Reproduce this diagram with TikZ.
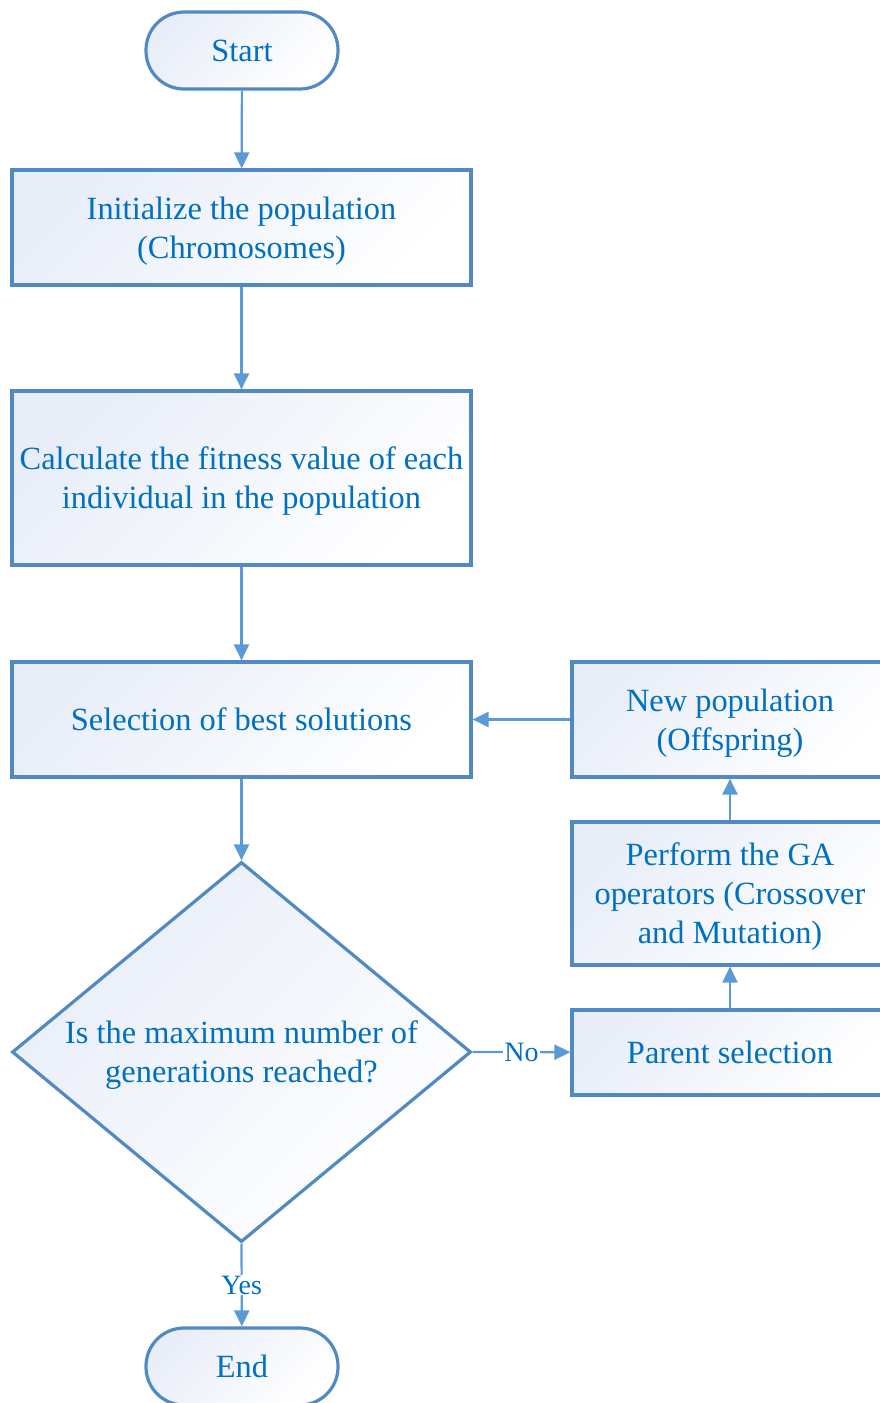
\documentclass[tikz,border=0pt]{standalone}
\usepackage{fontspec}
\setmainfont{Liberation Serif}
\usetikzlibrary{shapes.geometric,arrows.meta}
\definecolor{txtblue}{HTML}{0070C0}
\definecolor{edgeblue}{HTML}{5189C2}
\definecolor{arrowblue}{HTML}{5B9BD5}
\definecolor{shadeblue}{HTML}{E8EDF8}
\tikzset{
  boxfill/.style={top color=shadeblue, bottom color=white, shading angle=45},
  procbox/.style={draw=edgeblue, line width=3.2pt, boxfill, text=txtblue,
    align=center, inner sep=0pt, text depth=0pt, font=\fontsize{32.4}{39}\selectfont},
  termbox/.style={procbox, rounded corners=38pt, minimum width=192pt, minimum height=77pt},
  decbox/.style={procbox, diamond, aspect=1.208, minimum width=459pt, minimum height=380pt},
  flow/.style={draw=arrowblue, line width=2.2pt, -{Triangle[length=16pt,width=15pt]}},
  lbl/.style={fill=white, text=txtblue, inner sep=1pt, font=\fontsize{28}{32}\selectfont}
}
\begin{document}
\begin{tikzpicture}[x=1pt,y=-1pt]
\useasboundingbox (0,0) rectangle (880,1403);
\clip (0,0) rectangle (880,1403);
\fill[white] (0,0) rectangle (880,1403);

% main column
\node[termbox] (start) at (242,50.5) {Start};
\node[procbox, minimum width=459pt, minimum height=115pt] (init) at (241.5,227.5)
  {Initialize the population\\(Chromosomes)};
\node[procbox, minimum width=459pt, minimum height=174pt] (fit) at (241.5,478)
  {Calculate the fitness value of each\\individual in the population};
\node[procbox, minimum width=459pt, minimum height=115pt] (sel) at (241.5,719.5)
  {Selection of best solutions};
\node[decbox] (dec) at (241.5,1052) {Is the maximum number of\\generations reached?};
\node[termbox] (end) at (242,1366.5) {End};

% loop column
\node[procbox, minimum width=316pt, minimum height=115pt] (newpop) at (730,719.5)
  {New population\\(Offspring)};
\node[procbox, minimum width=316pt, minimum height=143pt] (ops) at (730,893.5)
  {Perform the GA\\operators (Crossover\\and Mutation)};
\node[procbox, minimum width=316pt, minimum height=85pt] (par) at (730,1052.5)
  {Parent selection};

% connectors
\draw[flow] (start) -- (init);
\draw[flow] (init) -- (fit);
\draw[flow] (fit) -- (sel);
\draw[flow] (sel) -- (dec);
\draw[flow] (dec.south) -- node[lbl] {Yes} (end);
\draw[flow] (dec.east) -- node[lbl] {No} (par);
\draw[flow] (par) -- (ops);
\draw[flow] (ops) -- (newpop);
\draw[flow] (newpop) -- (sel);
\end{tikzpicture}
\end{document}
